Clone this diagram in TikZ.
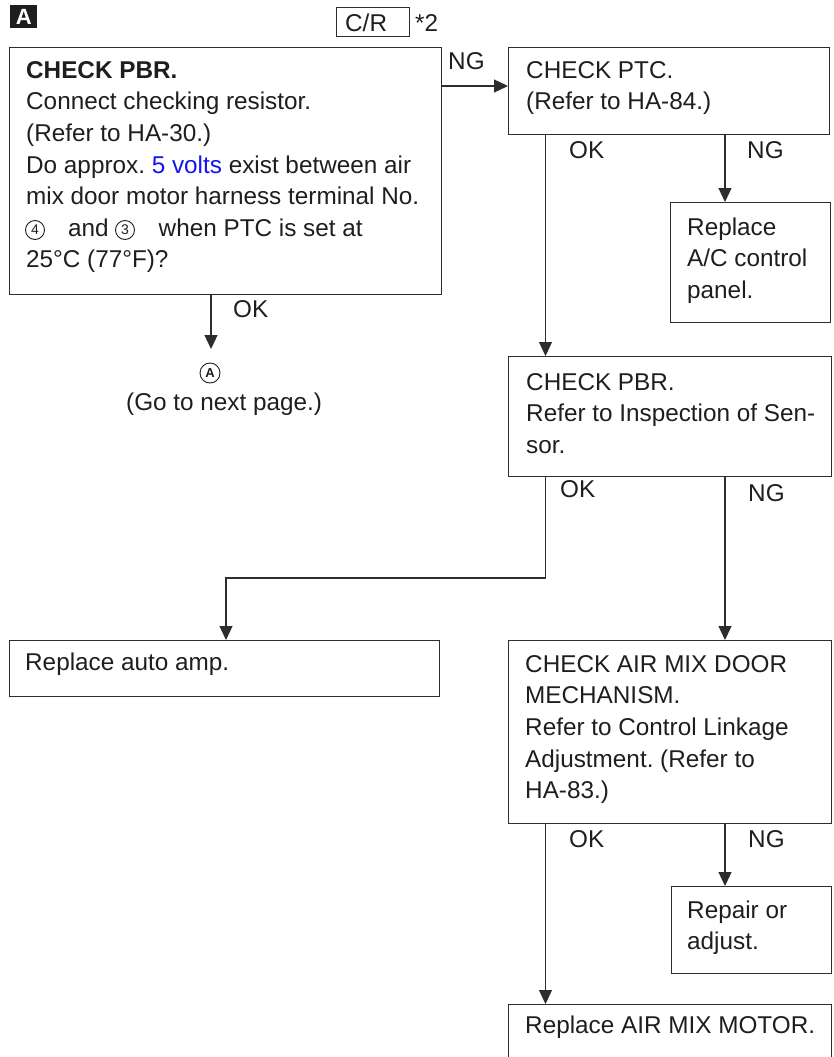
\documentclass[tikz,border=0pt]{standalone}
\usepackage{fontspec}
\setmainfont{Liberation Sans}
\usetikzlibrary{arrows.meta}
\definecolor{linec}{RGB}{45,45,45}
\definecolor{textc}{RGB}{30,30,30}
\definecolor{voltc}{RGB}{20,20,235}
\newcommand\tstrut{\rule{0pt}{20pt}}
\frenchspacing
\begin{document}
\begin{tikzpicture}[x=1pt,y=-1pt,
  box/.style={draw=linec, line width=1.3pt, rectangle, inner sep=0pt, anchor=north west},
  txt/.style={anchor=north west, inner sep=0pt, align=left, text=textc,
              font=\fontsize{24.3}{31.6}\selectfont},
  lbl/.style={anchor=base west, inner sep=0pt, text=textc,
              font=\fontsize{24.3}{28}\selectfont},
  cnum/.style={circle, draw=textc, line width=0.9pt, inner sep=0pt, minimum size=19pt,
               text=textc, font=\fontsize{14}{14}\selectfont},
  conn/.style={draw=linec, line width=1.2pt},
  arr/.style={conn, -{Triangle[length=14pt,width=13pt]}}]
\useasboundingbox (0,0) rectangle (834,1057);
\clip (0,0) rectangle (834,1057);

% header marks
\node[fill=textc, text=white, inner sep=0pt, minimum width=27pt, minimum height=23pt,
      anchor=north west, font=\fontsize{22}{22}\selectfont\bfseries] (tag) at (10,5) {A};
\node[box, minimum width=73pt, minimum height=29pt] (cr) at (336,7) {};
\node[lbl] (crt) at (345,32) {C/R};
\node[lbl] (star) at (415,32) {*2};

% boxes
\node[box, minimum width=432pt, minimum height=247pt] (b1) at (9,47) {};
\node[box, minimum width=321pt, minimum height=87pt]  (b2) at (508,47) {};
\node[box, minimum width=160pt, minimum height=120pt] (b3) at (670,202) {};
\node[box, minimum width=323pt, minimum height=120pt] (b4) at (508,356) {};
\node[box, minimum width=430pt, minimum height=56pt]  (b6) at (9,640) {};
\node[box, minimum width=323pt, minimum height=183pt] (b5) at (508,640) {};
\node[box, minimum width=160pt, minimum height=87pt]  (b7) at (671,886) {};
\node[box, minimum width=323pt, minimum height=90pt]  (b8) at (508,1004) {};

% box texts
\node[txt] (t1) at (26,58) {\tstrut\textbf{CHECK PBR.}\\
  Connect checking resistor.\\
  (Refer to HA-30.)\\
  Do approx. \textcolor{voltc}{5 volts} exist between air\\
  mix door motor harness terminal No.\\
  \hspace*{42pt}and\hspace*{50pt}when PTC is set at\\
  25°C (77°F)?};
\node[cnum] (c4) at (35,230) {4};
\node[cnum] (c3) at (125,230) {3};

\node[txt] (t2) at (526,58) {\tstrut CHECK PTC.\\ (Refer to HA-84.)};
\node[txt] (t3) at (687,215) {\tstrut Replace\\ A/C control\\ panel.};
\node[txt] (t4) at (526,370) {\tstrut CHECK PBR.\\ Refer to Inspection of Sen-\\ sor.};
\node[txt] (t6) at (25,650) {\tstrut Replace auto amp.};
\node[txt] (t5) at (525,652) {\tstrut CHECK AIR MIX DOOR\\ MECHANISM.\\ Refer to Control Linkage\\ Adjustment. (Refer to\\ HA-83.)};
\node[txt] (t7) at (687,898) {\tstrut Repair or\\ adjust.};
\node[txt] (t8) at (525,1013) {\tstrut Replace AIR MIX MOTOR.};

% off-page connector
\node[cnum, minimum size=20pt, font=\fontsize{13}{13}\selectfont\bfseries] (pa) at (210,373) {A};
\node[lbl] (next) at (126,410) {(Go to next page.)};

% connector helpers
\coordinate (xa) at (545.5,0);
\coordinate (xn) at (725,0);
\coordinate (y86) at (0,86);
\coordinate (xo) at (211,0);
\coordinate (okend) at (211,349);
\coordinate (turn) at (226,578);

% connectors
\draw[arr] (b1.east |- y86) -- (b2.west |- y86);
\draw[arr] (b1.south -| xo) -- (okend);
\draw[arr] (b2.south -| xa) -- (b4.north -| xa);
\draw[arr] (b2.south -| xn) -- (b3.north -| xn);
\draw[arr] (b4.south -| xa) |- (turn) -- (b6.north -| turn);
\draw[arr] (b4.south -| xn) -- (b5.north -| xn);
\draw[arr] (b5.south -| xa) -- (b8.north -| xa);
\draw[arr] (b5.south -| xn) -- (b7.north -| xn);

% branch labels
\node[lbl] (l1) at (448,70) {NG};
\node[lbl] (l2) at (233,317) {OK};
\node[lbl] (l3) at (569,158) {OK};
\node[lbl] (l4) at (747,158) {NG};
\node[lbl] (l5) at (560,497) {OK};
\node[lbl] (l6) at (748,501) {NG};
\node[lbl] (l7) at (569,847) {OK};
\node[lbl] (l8) at (748,847) {NG};
\end{tikzpicture}
\end{document}
